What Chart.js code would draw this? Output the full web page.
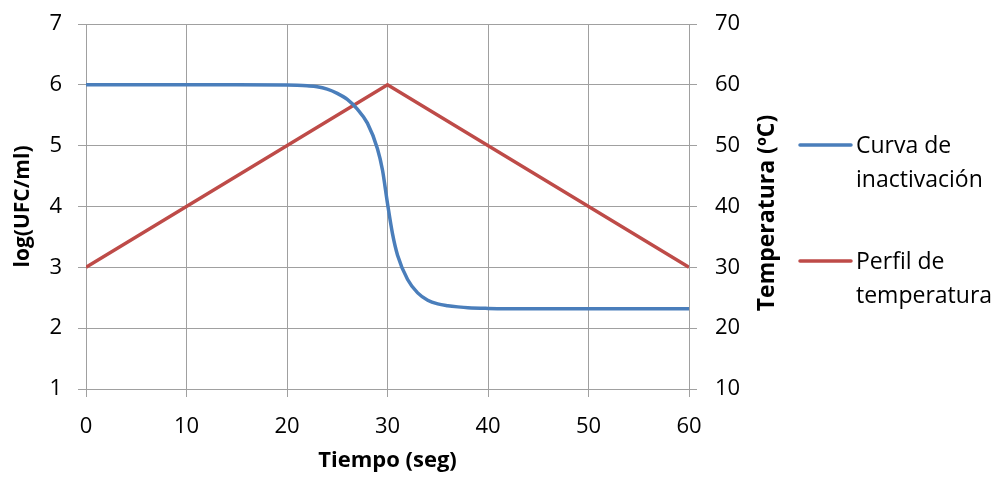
<!DOCTYPE html>
<html>
<head>
<meta charset="utf-8">
<script src="https://cdn.jsdelivr.net/npm/chart.js@4.4.0/dist/chart.umd.min.js"></script>
<style>
  html, body { margin: 0; padding: 0; background: #fff; }
</style>
</head>
<body>
<canvas id="grafico" width="997" height="478"></canvas>
<script>
// tiempo (seg) y log(UFC/ml) de la curva de inactivacion
const tiempos = [0, 5, 10, 15, 20, 21, 22, 23, 24, 25, 26, 27, 28, 29, 29.5, 30, 30.5, 31, 32, 33, 34, 35, 36, 37, 38, 40, 45, 50, 55, 60]
const logUfc = [6, 6, 6, 6, 5.997, 5.993, 5.985, 5.97, 5.93, 5.86, 5.76, 5.6, 5.37, 4.95, 4.6, 4.05, 3.55, 3.2, 2.8, 2.58, 2.46, 2.4, 2.37, 2.35, 2.335, 2.325, 2.32, 2.32, 2.32, 2.32]

// perfil de temperatura (ºC)
const tiemposTemp = [0, 30, 60]
const temperaturas = [30, 60, 30]

const etiquetas = [["Curva de", "inactivación"], ["Perfil de", "temperatura"]]
const colores = ["#4a7ebb", "#be4b48"]

const fuente = "'Open Sans', 'Liberation Sans', sans-serif"
const gris = "#a0a0a0"

// leyenda a la derecha con etiquetas de dos lineas, y titulo del eje derecho
const extras = {
  id: "extras",
  afterDraw(chart) {
    const ctx = chart.ctx
    const lineas = [145, 261]
    const bases = [153, 269]
    ctx.save()
    ctx.font = "23px " + fuente
    ctx.fillStyle = "#000"
    ctx.textBaseline = "alphabetic"
    chart.data.datasets.forEach((ds, i) => {
      ctx.strokeStyle = ds.borderColor
      ctx.lineWidth = 3.5
      ctx.lineCap = "round"
      ctx.beginPath()
      ctx.moveTo(800, lineas[i])
      ctx.lineTo(851, lineas[i])
      ctx.stroke()
      etiquetas[i].forEach((t, j) => ctx.fillText(t, 856, bases[i] + j * 34))
    })

    ctx.font = "bold 23px " + fuente
    ctx.translate(767, 213)
    ctx.rotate(-Math.PI / 2)
    ctx.textAlign = "center"
    ctx.textBaseline = "middle"
    ctx.fillText("Temperatura (ºC)", 0, 0)
    ctx.restore()
  }
}

// ejes verticales sin relleno extra arriba y abajo
const sinRelleno = (ancho) => (s) => {
  s.width = ancho
  s.paddingTop = 0
  s.paddingBottom = 0
}

const lienzo = document.getElementById("grafico")

new Chart(lienzo, {
  type: "line",
  data: {
    datasets: [
      {
        label: etiquetas[0].join(" "),
        data: tiempos.map((t, i) => ({ x: t, y: logUfc[i] })),
        borderColor: colores[0],
        borderWidth: 3.5,
        pointRadius: 0,
        cubicInterpolationMode: "monotone",
        yAxisID: "y",
      },
      {
        label: etiquetas[1].join(" "),
        data: tiemposTemp.map((t, i) => ({ x: t, y: temperaturas[i] })),
        borderColor: colores[1],
        borderWidth: 3.5,
        pointRadius: 0,
        tension: 0,
        yAxisID: "y2",
      },
    ],
  },
  options: {
    responsive: false,
    animation: false,
    layout: { padding: { top: 24, left: 6, right: 0, bottom: 0 } },
    plugins: {
      legend: { display: false },
      tooltip: { enabled: false },
    },
    scales: {
      x: {
        type: "linear",
        min: 0,
        max: 60,
        ticks: { stepSize: 10, color: "#000", font: { family: fuente, size: 22 }, padding: 17 },
        grid: { color: gris, tickLength: 8 },
        border: { color: gris },
        title: { display: true, text: "Tiempo (seg)", color: "#000", font: { family: fuente, size: 22, weight: "bold" } },
        afterFit: (s) => { s.height = 89 },
      },
      y: {
        position: "left",
        min: 1,
        max: 7,
        ticks: { stepSize: 1, color: "#000", font: { family: fuente, size: 22 }, padding: 16 },
        grid: { color: gris, tickLength: 8 },
        border: { color: gris },
        title: { display: true, text: "log(UFC/ml)", color: "#000", font: { family: fuente, size: 21, weight: "bold" } },
        afterFit: sinRelleno(80),
      },
      y2: {
        position: "right",
        min: 10,
        max: 70,
        ticks: { stepSize: 10, color: "#000", font: { family: fuente, size: 22 }, padding: 18 },
        grid: { drawOnChartArea: false, color: gris, tickLength: 8 },
        border: { color: gris },
        afterFit: sinRelleno(308),
      },
    },
  },
  plugins: [extras],
})
</script>
</body>
</html>
